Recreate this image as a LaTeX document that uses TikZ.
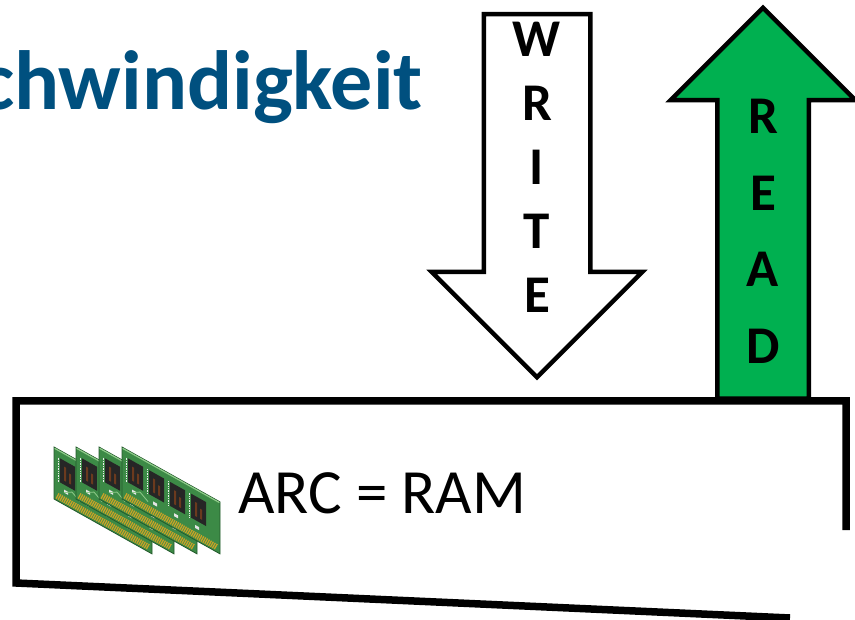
\documentclass[tikz,border=0pt]{standalone}
\usepackage{fontspec}
\setmainfont{Carlito}
\usetikzlibrary{shapes.arrows}

\definecolor{titleblue}{HTML}{00507F}
\definecolor{readgreen}{HTML}{00B050}
\definecolor{ramgreen}{HTML}{3C8A46}
\definecolor{ramdark}{HTML}{23592B}
\definecolor{ramlight}{HTML}{8FCB8A}
\definecolor{chipblack}{HTML}{262626}
\definecolor{chipbrown}{HTML}{6B3A1E}
\definecolor{contactgold}{HTML}{C9A227}

\tikzset{
	letter/.style={anchor=base, inner sep=0pt, font=\fontsize{53}{60}\selectfont\bfseries},
	flowarrow/.style={single arrow, draw=black, line width=4.5pt, inner xsep=0pt, text height=0pt, text depth=0pt, anchor=tail}
}

\begin{document}
\begin{tikzpicture}[x=1pt, y=-1pt]
			\useasboundingbox (0,0) rectangle (855,620);
			\clip (0,0) rectangle (855,620);

			\node[anchor=base east, inner sep=0pt, text=titleblue, font=\fontsize{84}{92}\selectfont\bfseries] (title) at (423,110) {chwindigkeit};

			% write goes down into the cache, read comes back up
			\node[flowarrow, fill=white, rotate=270, minimum height=363pt, inner ysep=51pt, single arrow head extend=52pt] (write) at (537,12) {};
			\node[flowarrow, fill=readgreen, rotate=90, minimum height=391pt, inner ysep=43.5pt, single arrow head extend=46.5pt] (read) at (763,401) {};
			\foreach \l [count=\i] in {W,R,I,T,E}
				\node[letter] (w\i) at (537,{57+64*(\i-1)}) {\l};
			\foreach \l [count=\i] in {R,E,A,D}
				\node[letter] (r\i) at (763,{134+76.5*(\i-1)}) {\l};

			% the cache box, seen at an angle
			\draw[line width=7.5pt, line join=miter] (846,530) -- (846,401) -- (16,401) -- (16,583) -- (790,618);

			% four memory modules
			\foreach \xo in {54,76,99,122} {
				\begin{scope}[shift={(\xo,447)}, yslant=-0.56]
					\filldraw[fill=ramgreen, draw=ramdark, line width=0.8pt] (0,0) rectangle (98,52);
					\draw[ramlight, line width=1.2pt] (0.6,1) -- (97.4,1);
					\foreach \u in {6,27,48,69} {
						\fill[chipblack] (\u,8) rectangle +(15,24);
						\fill[chipbrown] (\u+4,14) rectangle +(2,14);
						\fill[chipbrown] (\u+9,18) rectangle +(2,10);
						\draw[white!85!gray, line width=1.2pt, dash pattern=on 0.8pt off 0.9pt] (\u-1.5,8) -- (\u-1.5,32);
						\fill[white!80!gray] (\u+4,37) rectangle +(4,3);
					}
					\draw[ramlight, line width=0.8pt] (10,40) -- (18,35) -- (26,40);
					\draw[contactgold, line width=6pt, dash pattern=on 1.3pt off 0.9pt] (3,47) -- (95,47);
				\end{scope}
			}

			\node[anchor=base west, inner sep=0pt, font=\fontsize{63}{70}\selectfont] (arc) at (238,513) {ARC = RAM};
		\end{tikzpicture}
\end{document}
